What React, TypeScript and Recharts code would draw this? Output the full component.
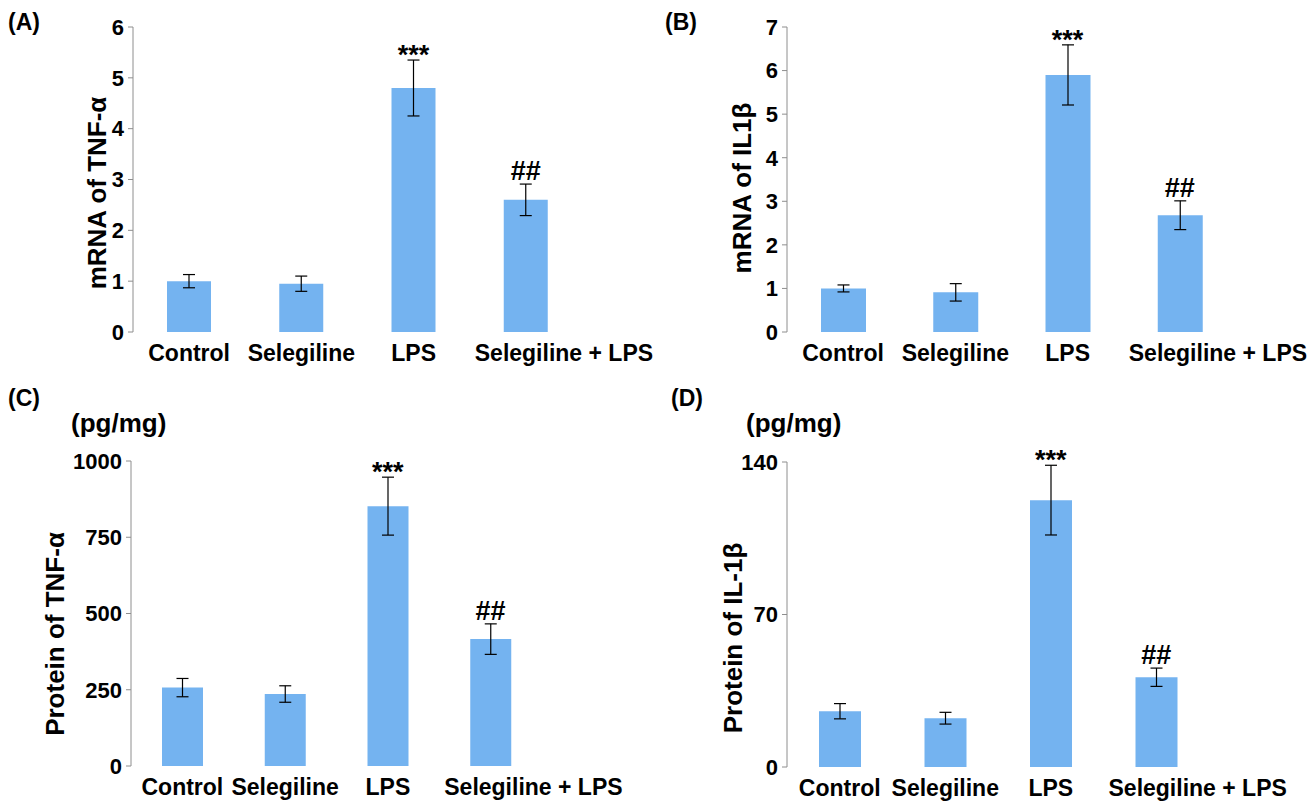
import { ComposedChart, Bar, Line, XAxis, YAxis, ErrorBar, LabelList } from "recharts";

const groups = ["Control", "Selegiline", "LPS", "Selegiline + LPS"];
const marks = ["", "", "***", "##"];

const tnfMrna = [1.0, 0.95, 4.8, 2.6];
const tnfMrnaErr = [0.13, 0.15, 0.55, 0.31];
const il1bMrna = [1.0, 0.91, 5.9, 2.68];
const il1bMrnaErr = [0.08, 0.2, 0.69, 0.33];
const tnfProtein = [257, 236, 852, 416];
const tnfProteinErr = [30, 27, 95, 50];
const il1bProtein = [25.6, 22.4, 122.5, 41.2];
const il1bProteinErr = [3.5, 2.7, 16, 4.2];

const tnfMrnaTicks = [0, 1, 2, 3, 4, 5, 6];
const il1bMrnaTicks = [0, 1, 2, 3, 4, 5, 6, 7];
const tnfProteinTicks = [0, 250, 500, 750, 1000];
const il1bProteinTicks = [0, 70, 140];
const boundaryTicks = [0, 1, 2, 3, 4];

const FONT = '"Liberation Sans", Arial, Helvetica, sans-serif';
const BAR = "#74b3f0";
const AXIS = "#8e8e8e";

function rows(values: number[], errs: number[]) {
  return groups.map((name, i) => ({
    name,
    value: values[i],
    err: errs[i],
    hi: values[i] + errs[i],
    mark: marks[i],
  }));
}

const EmptyTick = () => <g />;

function MarkLabel(props: any) {
  const { x, y, value } = props;
  if (!value) return null;
  const dy = value === "***" ? 4 : -4;
  return (
    <text x={x} y={y + dy} textAnchor="middle" fontSize={27} fontWeight="bold" fontFamily={FONT} fill="#000">
      {value}
    </text>
  );
}

function GroupTick(props: any) {
  const { x, y, payload, index, band } = props;
  const last = index === groups.length - 1;
  return (
    <text
      x={last ? x - band / 2 + 5 : x}
      y={y + 29}
      textAnchor={last ? "start" : "middle"}
      fontSize={23}
      fontWeight="bold"
      fontFamily={FONT}
      fill="#000"
    >
      {payload.value}
    </text>
  );
}

interface PanelProps {
  left: number;
  top: number;
  width: number;
  height: number;
  yWidth: number;
  mTop: number;
  mRight: number;
  mBottom: number;
  catHeight: number;
  barSize: number;
  values: number[];
  errs: number[];
  ticks: number[];
}

function Panel(p: PanelProps) {
  const data = rows(p.values, p.errs);
  const band = (p.width - p.yWidth - p.mRight) / groups.length;
  return (
    <div style={{ position: "absolute", left: p.left, top: p.top }}>
      <ComposedChart
        width={p.width}
        height={p.height}
        data={data}
        margin={{ top: p.mTop, right: p.mRight, bottom: p.mBottom, left: 0 }}
      >
        <XAxis
          xAxisId="edge"
          type="number"
          domain={[0, 4]}
          ticks={boundaryTicks}
          interval={0}
          allowDataOverflow
          height={0}
          tickSize={6}
          axisLine={{ stroke: AXIS }}
          tickLine={{ stroke: AXIS }}
          tick={<EmptyTick />}
        />
        <XAxis
          xAxisId="cat"
          dataKey="name"
          height={p.catHeight}
          axisLine={false}
          tickLine={false}
          tickSize={0}
          tickMargin={0}
          interval={0}
          tick={(t: any) => <GroupTick {...t} band={band} />}
        />
        <YAxis
          width={p.yWidth}
          domain={[0, p.ticks[p.ticks.length - 1]]}
          ticks={p.ticks}
          interval={0}
          tickSize={5}
          tickMargin={4}
          axisLine={{ stroke: AXIS }}
          tickLine={{ stroke: AXIS }}
          tick={{ fontSize: 22, fontWeight: "bold", fill: "#000", fontFamily: FONT }}
        />
        <Bar xAxisId="cat" dataKey="value" fill={BAR} barSize={p.barSize} isAnimationActive={false}>
          <ErrorBar dataKey="err" width={6} stroke="#000" strokeWidth={1.2} isAnimationActive={false} />
        </Bar>
        <Line
          xAxisId="cat"
          dataKey="hi"
          stroke="none"
          dot={false}
          activeDot={false}
          isAnimationActive={false}
        >
          <LabelList dataKey="mark" content={<MarkLabel />} />
        </Line>
      </ComposedChart>
    </div>
  );
}

function Title({ x, y, children }: { x: number; y: number; children: string }) {
  return (
    <text
      x={x + 9}
      y={y}
      transform={`rotate(-90 ${x + 9} ${y})`}
      textAnchor="middle"
      fontSize={26}
      fontWeight="bold"
      fontFamily={FONT}
      fill="#000"
    >
      {children}
    </text>
  );
}

const tag = { fontSize: 23, fontWeight: "bold" as const, fontFamily: FONT, fill: "#000" };
const unit = { fontSize: 26, fontWeight: "bold" as const, fontFamily: FONT, fill: "#000" };

export default function App() {
  return (
    <div style={{ position: "absolute", left: 0, top: 0, width: 1315, height: 803, background: "#fff" }}>
      <Panel left={0} top={0} width={660} height={400} yWidth={133} mTop={27} mRight={78} mBottom={28}
        catHeight={40} barSize={44} values={tnfMrna} errs={tnfMrnaErr} ticks={tnfMrnaTicks} />
      <Panel left={655} top={0} width={660} height={400} yWidth={132} mTop={27} mRight={79} mBottom={28}
        catHeight={40} barSize={45} values={il1bMrna} errs={il1bMrnaErr} ticks={il1bMrnaTicks} />
      <Panel left={0} top={400} width={660} height={403} yWidth={131} mTop={61} mRight={118} mBottom={7}
        catHeight={30} barSize={41} values={tnfProtein} errs={tnfProteinErr} ticks={tnfProteinTicks} />
      <Panel left={655} top={400} width={660} height={403} yWidth={132} mTop={62} mRight={106} mBottom={6}
        catHeight={30} barSize={42} values={il1bProtein} errs={il1bProteinErr} ticks={il1bProteinTicks} />
      <svg width={1315} height={803} style={{ position: "absolute", left: 0, top: 0, pointerEvents: "none" }}>
        <text x={8} y={30} {...tag}>(A)</text>
        <text x={665} y={30} {...tag}>(B)</text>
        <text x={8} y={406} {...tag}>(C)</text>
        <text x={671} y={406} {...tag}>(D)</text>
        <text x={71} y={432} {...unit}>(pg/mg)</text>
        <text x={746} y={432} {...unit}>(pg/mg)</text>
        <Title x={97} y={193}>mRNA of TNF-α</Title>
        <Title x={742} y={188}>mRNA of IL1β</Title>
        <Title x={55} y={634}>Protein of TNF-α</Title>
        <Title x={733} y={638}>Protein of IL-1β</Title>
      </svg>
    </div>
  );
}
